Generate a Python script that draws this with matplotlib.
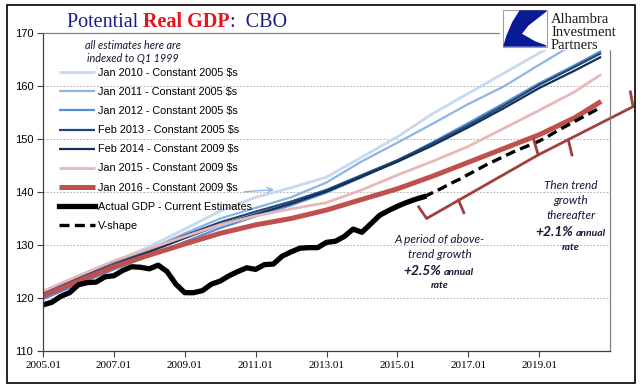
import matplotlib
matplotlib.use('Agg')
import matplotlib.pyplot as plt
from matplotlib.patches import Rectangle, Polygon

# quarter index: 0 = 2005 Q1
proj_q = [0, 4, 8, 12, 16, 20, 24, 28, 32, 36, 40, 44, 48, 52, 56, 60, 63]
jan2010 = [121.0, 123.9, 126.8, 129.7, 133.0, 136.4, 139.0, 140.8, 142.8, 146.6,
           150.4, 154.8, 158.6, 162.4, 166.2, 170.0, 172.8]
jan2011 = [120.6, 123.5, 126.4, 129.2, 132.2, 135.0, 137.0, 139.0, 141.8, 145.8,
           149.3, 152.9, 156.6, 159.9, 164.0, 168.0, 171.0]
jan2012 = [119.8, 122.6, 125.4, 128.0, 130.6, 133.2, 135.4, 137.5, 139.9, 142.8,
           145.9, 149.4, 153.0, 156.7, 160.5, 163.9, 166.6]
feb2013 = [120.9, 123.9, 126.8, 129.1, 131.8, 134.3, 136.3, 138.2, 140.4, 143.2,
           146.0, 149.2, 152.6, 156.3, 160.2, 163.6, 166.2]
feb2014 = [120.6, 123.5, 126.3, 128.7, 131.3, 133.8, 135.8, 137.8, 140.1, 142.9,
           145.7, 148.8, 152.2, 155.8, 159.6, 162.9, 165.5]
jan2015 = [121.3, 124.2, 127.0, 129.3, 131.6, 133.8, 135.5, 136.8, 138.0, 140.4,
           143.2, 145.8, 148.6, 152.0, 155.4, 158.9, 162.2]
jan2016 = [120.4, 123.2, 125.9, 128.1, 130.2, 132.2, 133.8, 135.0, 136.6, 138.6,
           140.6, 143.0, 145.6, 148.2, 150.8, 154.0, 157.1]

actual_q = list(range(44))
actual = [118.7, 119.2, 120.3, 121.0, 122.5, 122.9, 123.0, 124.0, 124.2, 125.2,
          125.9, 125.8, 125.5, 126.2, 125.0, 122.6, 121.0, 121.0, 121.4, 122.6,
          123.2, 124.2, 125.0, 125.7, 125.4, 126.3, 126.4, 127.9, 128.7, 129.4,
          129.5, 129.5, 130.5, 130.7, 131.6, 133.0, 132.4, 134.0, 135.6, 136.5,
          137.3, 138.0, 138.6, 139.1]

vshape_q = list(range(43, 64))
vshape = [139.1, 139.9, 140.7, 141.6, 142.4, 143.3, 144.2, 145.1, 145.9, 146.7,
          147.5, 148.2, 148.9, 149.6, 150.5, 151.5, 152.4, 153.3, 154.2, 155.1, 156.0]

tick_q = [0, 8, 16, 24, 32, 40, 48, 56]
tick_labels = ['2005.01', '2007.01', '2009.01', '2011.01',
               '2013.01', '2015.01', '2017.01', '2019.01']

series = [
    ('Jan 2010 - Constant 2005 $s', jan2010, '#C6D9F1', 2.0),
    ('Jan 2011 - Constant 2005 $s', jan2011, '#8DB4E2', 1.6),
    ('Jan 2012 - Constant 2005 $s', jan2012, '#558ED5', 1.6),
    ('Feb 2013 - Constant 2005 $s', feb2013, '#1F497D', 1.6),
    ('Feb 2014 - Constant 2009 $s', feb2014, '#142F52', 1.6),
    ('Jan 2015 - Constant 2009 $s', jan2015, '#E6B9B8', 2.0),
    ('Jan 2016 - Constant 2009 $s', jan2016, '#C0504D', 3.6),
]

W, H = 641, 392
fig = plt.figure(figsize=(W / 100, H / 100), dpi=100)
ax = fig.add_axes([43 / W, 1 - 351 / H, (610 - 43) / W, (351 - 33) / H])

handles = []
for label, vals, color, lw in series:
    ln, = ax.plot(proj_q, vals, color=color, lw=lw, solid_capstyle='butt', label=label)
    handles.append(ln)
ln, = ax.plot(actual_q, actual, color='black', lw=3.8, label='Actual GDP - Current Estimates')
handles.append(ln)
ln, = ax.plot(vshape_q, vshape, color='black', lw=2.4, ls=(0, (3, 1.6)), label='V-shape')
handles.append(ln)

ax.set_xlim(0, 64)
ax.set_ylim(110, 170)
ax.set_yticks(range(110, 171, 10))
ax.set_xticks(tick_q)
ax.set_xticklabels(tick_labels, family='Liberation Serif', fontsize=8)
for t in ax.get_yticklabels():
    t.set_family('Liberation Sans')
    t.set_fontsize(8)
ax.tick_params(axis='both', direction='out', length=4, width=0.8, color='#404040', pad=3)
for y in range(120, 170, 10):
    ax.axhline(y, color='#A6A6A6', lw=0.6, ls=(0, (2, 2)), zorder=0)
ax.spines['left'].set_color('#404040')
ax.spines['bottom'].set_color('#404040')
ax.spines['top'].set_color('#808080')
ax.spines['right'].set_color('#808080')
for s in ax.spines.values():
    s.set_linewidth(0.9)

leg = ax.legend(handles=handles, loc='upper left', bbox_to_anchor=(59 / W, 1 - 68 / H),
                bbox_transform=fig.transFigure, frameon=False,
                prop={'family': 'Liberation Sans', 'size': 7.8},
                handlelength=3.3, handletextpad=0.3, labelspacing=0.84,
                borderpad=0, borderaxespad=0)

# small arrow over the Jan 2010 line
ax.annotate('', xy=(26.4, 140.5), xytext=(22.4, 140.0),
            arrowprops=dict(arrowstyle='->', color='#8DB4E2', lw=1.0))

# brackets
br = '#A0403C'
ax.plot([42.4, 43.3, 55.9, 55.4], [137.2, 135.0, 147.0, 149.8], color=br, lw=2, clip_on=False)
ax.plot([55.9, 66.6, 66.3], [147.0, 156.1, 158.9], color=br, lw=2, clip_on=False)
ax.plot([46.9, 47.5], [138.5, 136.1], color=br, lw=2, clip_on=False)
ax.plot([59.3, 59.7], [149.8, 147.0], color=br, lw=2, clip_on=False)

# overlay in pixel coordinates
ov = fig.add_axes([0, 0, 1, 1], zorder=5)
ov.set_xlim(0, W)
ov.set_ylim(H, 0)
ov.axis('off')
ov.patch.set_alpha(0)

ov.add_patch(Rectangle((7, 5), 628, 378, fill=False, ec='black', lw=1.2))

# title
navy = '#1A1A8C'
fig.canvas.draw()
r = fig.canvas.get_renderer()
x = 67
for txt, col, wt in [('Potential ', navy, 'normal'), ('Real GDP', '#E8141C', 'bold'),
                     (':  CBO', navy, 'normal')]:
    t = ov.text(x, 27, txt, color=col, fontweight=wt, fontsize=14.5,
                family='Liberation Serif', va='baseline', ha='left')
    bb = t.get_window_extent(renderer=r)
    x += bb.width

# logo
ov.add_patch(Rectangle((500, 7), 130, 42, color='white', zorder=1))
ov.add_patch(Rectangle((503, 10), 44, 37, fill=False, ec='#A0A0A0', lw=0.8, zorder=2))
ov.add_patch(Polygon([(520, 11), (546, 11), (528, 25), (521, 34), (535, 42), (546, 46),
                      (504, 46), (507, 36), (513, 22)], closed=True, color='#0A1A96', zorder=3))
for i, word in enumerate(['Alhambra', 'Investment', 'Partners']):
    ov.text(551, 19 + 13 * i, word, family='Liberation Serif', fontsize=10.5,
            va='center', ha='left', color='#1A1A1A', zorder=4)

# notes
note = '#161636'
ov.text(133, 45, 'all estimates here are', family='Lato', style='italic', fontsize=7.8,
        ha='center', va='center', color=note)
ov.text(133, 58, 'indexed to Q1 1999', family='Lato', style='italic', fontsize=7.8,
        ha='center', va='center', color=note)

ov.text(440, 239, 'A period of above-', family='Lato', style='italic', fontsize=8.5,
        ha='center', va='center', color=note)
ov.text(440, 254, 'trend growth', family='Lato', style='italic', fontsize=8.5,
        ha='center', va='center', color=note)
ov.text(441, 275, '+2.5%', family='Lato', style='italic', weight='bold', fontsize=10,
        ha='right', va='baseline', color=note)
ov.text(444, 275, 'annual', family='Lato', style='italic', weight='bold', fontsize=7.5,
        ha='left', va='baseline', color=note)
ov.text(440, 286, 'rate', family='Lato', style='italic', weight='bold', fontsize=7.5,
        ha='center', va='center', color=note)

ov.text(571, 185, 'Then trend', family='Lato', style='italic', fontsize=8.5,
        ha='center', va='center', color=note)
ov.text(571, 200, 'growth', family='Lato', style='italic', fontsize=8.5,
        ha='center', va='center', color=note)
ov.text(571, 215, 'thereafter', family='Lato', style='italic', fontsize=8.5,
        ha='center', va='center', color=note)
ov.text(573, 236, '+2.1%', family='Lato', style='italic', weight='bold', fontsize=10,
        ha='right', va='baseline', color=note)
ov.text(576, 236, 'annual', family='Lato', style='italic', weight='bold', fontsize=7.5,
        ha='left', va='baseline', color=note)
ov.text(571, 247, 'rate', family='Lato', style='italic', weight='bold', fontsize=7.5,
        ha='center', va='center', color=note)

fig.savefig('out.png', dpi=100)
